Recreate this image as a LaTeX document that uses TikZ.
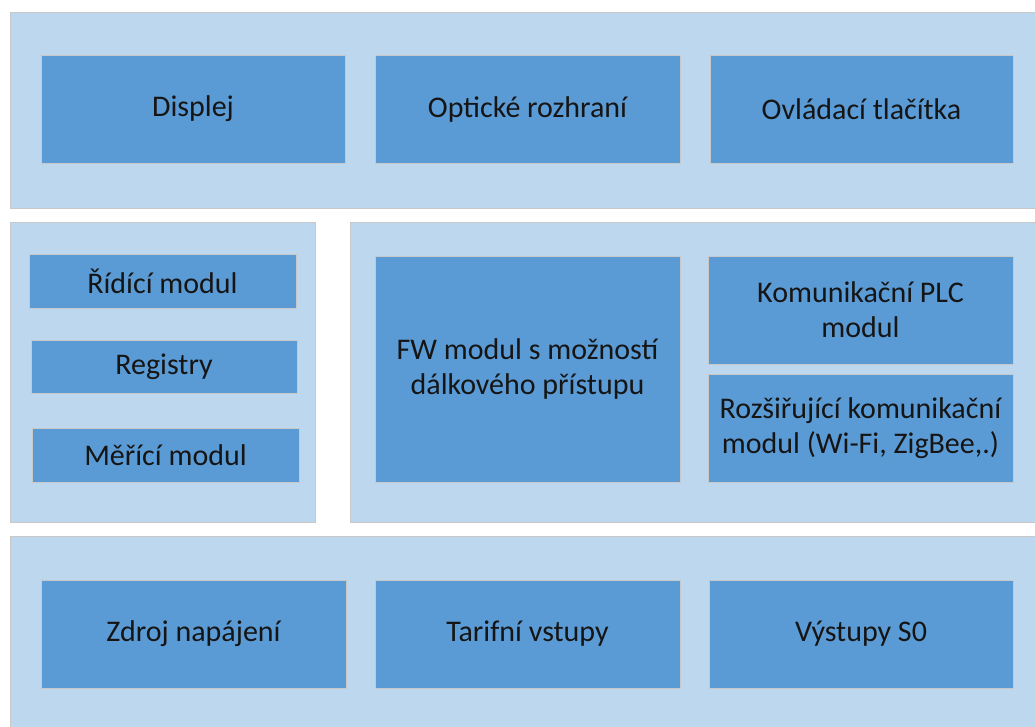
\documentclass[tikz,border=0pt]{standalone}
\usepackage{fontspec}
\setmainfont{Carlito}
\definecolor{panel}{HTML}{BDD7EE}
\definecolor{block}{HTML}{5B9BD5}
\definecolor{edge}{HTML}{C8C8C8}
\definecolor{ink}{HTML}{151515}
\begin{document}
\begin{tikzpicture}[x=1pt,y=-1pt,
  panelbox/.style={draw=edge, line width=1pt, fill=panel, inner sep=0pt, outer sep=0pt},
  blockbox/.style={draw=edge, line width=1pt, fill=block, text=ink, align=center,
    font=\fontsize{30}{35}\selectfont, inner sep=0pt, outer sep=0pt},
]
\useasboundingbox (0,0) rectangle (1035,726);
\clip (0,0) rectangle (1035,726);
\fill[white] (0,0) rectangle (1035,726);
% panels
\node[panelbox, minimum width=1030, minimum height=196] (top) at (525,110) {};
\node[panelbox, minimum width=305, minimum height=300] (midl) at (162.5,372) {};
\node[panelbox, minimum width=690, minimum height=300] (midr) at (695,372) {};
\node[panelbox, minimum width=1030, minimum height=204] (bot) at (525,638) {};
% top blocks
\node[blockbox, minimum width=304, minimum height=108] (disp) at (193,109) {Displej};
\node[blockbox, minimum width=305, minimum height=108] (opt) at (527.5,109) {Optické rozhraní};
\node[blockbox, minimum width=303, minimum height=108] (ovl) at (861.5,109) {Ovládací tlačítka};
% middle left blocks
\node[blockbox, minimum width=267, minimum height=54] (rid) at (162.5,281) {Řídící modul};
\node[blockbox, minimum width=266, minimum height=53] (reg) at (164,366.5) {Registry};
\node[blockbox, minimum width=267, minimum height=54] (mer) at (165.5,455) {Měřící modul};
% middle right blocks
\node[blockbox, minimum width=305, minimum height=226] (fw) at (527.5,369) {FW modul s možností\\dálkového přístupu};
\node[blockbox, minimum width=305, minimum height=108] (plc) at (860.5,310) {Komunikační PLC\\modul};
\node[blockbox, minimum width=305, minimum height=108] (ext) at (860.5,428) {Rozšiřující komunikační\\modul (Wi-Fi, ZigBee,.)};
% bottom blocks
\node[blockbox, minimum width=305, minimum height=108] (zdr) at (193.5,634) {Zdroj napájení};
\node[blockbox, minimum width=305, minimum height=108] (tar) at (527.5,634) {Tarifní vstupy};
\node[blockbox, minimum width=304, minimum height=108] (vys) at (861,634) {Výstupy S0};
\end{tikzpicture}
\end{document}
